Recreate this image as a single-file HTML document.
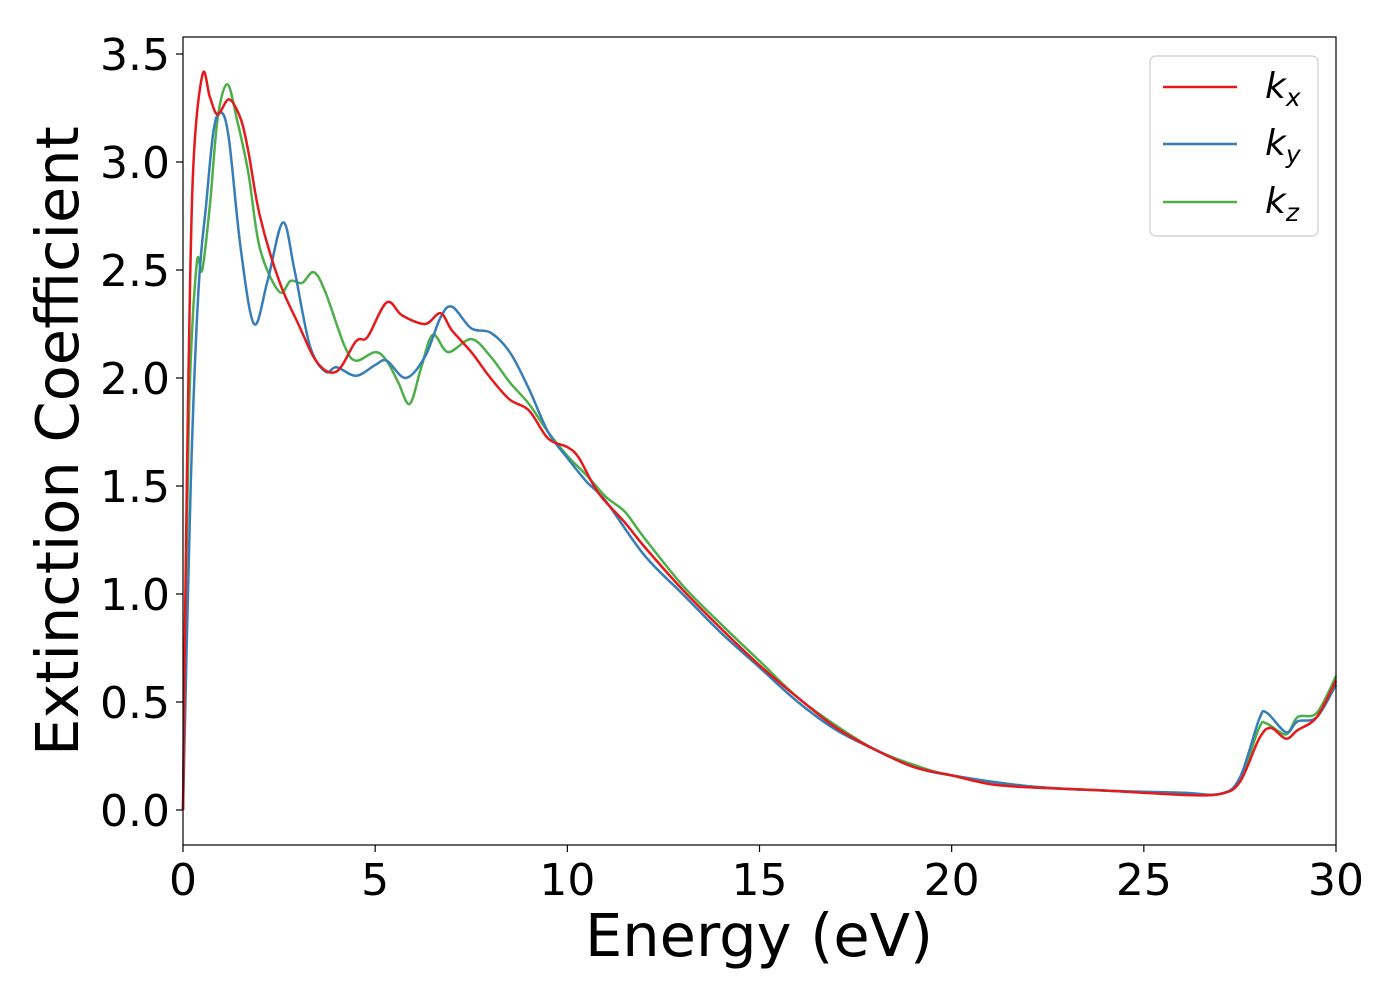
<!DOCTYPE html>
<html><head><meta charset="utf-8"><style>
html,body{margin:0;padding:0;background:#fff;}
svg{display:block;font-family:"DejaVu Sans","Liberation Sans",sans-serif;}
</style></head><body>
<svg id="chart" width="1400" height="1000" viewBox="0 0 1400 1000" xmlns="http://www.w3.org/2000/svg">
<rect x="0" y="0" width="1400" height="1000" fill="#fff"/>
<g id="series"></g>
<rect x="183" y="37" width="1153" height="808" fill="none" stroke="#000" stroke-width="1.2"/>
<g id="xticks"></g>
<g id="yticks"></g>
<text x="759" y="956" font-size="59" text-anchor="middle">Energy (eV)</text>
<text transform="translate(78,441) rotate(-90)" font-size="59" text-anchor="middle">Extinction Coefficient</text>
<g>
<rect x="1150" y="56" width="168" height="180" rx="6" fill="#fff" stroke="#ccc" stroke-width="1.2"/>
<line x1="1163" y1="87" x2="1237" y2="87" stroke="#e41a1c" stroke-width="2.5"/>
<text x="1265" y="98" font-size="36" font-style="italic">k<tspan font-size="25" dy="8">x</tspan></text>
<line x1="1163" y1="144" x2="1237" y2="144" stroke="#377eb8" stroke-width="2.5"/>
<text x="1265" y="155" font-size="36" font-style="italic">k<tspan font-size="25" dy="8">y</tspan></text>
<line x1="1163" y1="202" x2="1237" y2="202" stroke="#4daf4a" stroke-width="2.5"/>
<text x="1265" y="213" font-size="36" font-style="italic">k<tspan font-size="25" dy="8">z</tspan></text>
</g>
</svg>
<script>
const xTickValues=[0,5,10,15,20,25,30];
const yTickValues=[0.0,0.5,1.0,1.5,2.0,2.5,3.0,3.5];
const kxE=[0,0.1,0.25,0.5,0.7,0.9,1.2,1.5,1.7,2,2.5,3,3.5,4,4.5,4.8,5.3,5.7,6.3,6.7,7,7.5,8,8.5,9,9.5,10,10.3,10.8,11.5,12,13,14,15,16,17,18,19,20,21,22,24,26,27,27.5,28,28.3,28.7,29,29.5,30];
const kxV=[0,1.5,2.9,3.4,3.3,3.22,3.29,3.2,3.05,2.75,2.45,2.25,2.07,2.03,2.17,2.19,2.35,2.29,2.25,2.3,2.22,2.12,2.0,1.9,1.85,1.72,1.68,1.63,1.47,1.33,1.22,1.02,0.84,0.67,0.52,0.38,0.28,0.2,0.16,0.12,0.105,0.09,0.07,0.075,0.13,0.33,0.38,0.33,0.37,0.43,0.6];
const kyE=[0,0.2,0.4,0.6,0.8,1,1.2,1.5,1.85,2.2,2.6,2.9,3.3,3.7,4,4.5,5,5.3,5.8,6.3,6.7,7,7.5,8,8.5,9,9.5,10,10.5,11,12,13,14,15,16,17,18,19,20,22,24,26,27,27.5,28,28.2,28.7,29,29.5,30];
const kyV=[0,1.5,2.4,2.8,3.15,3.23,3.1,2.6,2.25,2.45,2.72,2.5,2.15,2.03,2.05,2.01,2.06,2.08,2.0,2.1,2.28,2.33,2.23,2.21,2.12,1.95,1.75,1.63,1.52,1.43,1.18,1.0,0.82,0.66,0.5,0.37,0.28,0.2,0.16,0.11,0.09,0.08,0.075,0.15,0.42,0.45,0.36,0.41,0.43,0.58];
const kzE=[0,0.15,0.35,0.5,0.7,0.9,1.15,1.4,1.7,2,2.5,2.8,3.1,3.4,3.7,4.2,4.5,5,5.3,5.6,5.9,6.2,6.5,6.9,7.5,8,8.5,9,9.5,10,10.5,11,11.5,12,13,14,15,16,17,18,19,20,22,24,26,27,27.5,28,28.2,28.7,29,29.5,30];
const kzV=[0,1.8,2.52,2.5,2.8,3.2,3.36,3.2,2.95,2.6,2.4,2.45,2.44,2.49,2.4,2.15,2.08,2.12,2.08,1.98,1.88,2.05,2.2,2.12,2.18,2.1,1.98,1.88,1.75,1.64,1.55,1.45,1.38,1.26,1.04,0.86,0.69,0.52,0.39,0.28,0.21,0.16,0.11,0.09,0.075,0.075,0.14,0.38,0.4,0.35,0.43,0.45,0.62];

const X0=183,X1=1336,Y0v=810,PXU=216;
function xs(v){return X0+(v-0)/30*(X1-X0);}
function ys(v){return Y0v-v*PXU;}
const NS="http://www.w3.org/2000/svg";
function smoothPath(E,V){
  const p=E.map((e,i)=>[xs(e),ys(V[i])]);
  let d="M"+p[0][0].toFixed(1)+","+p[0][1].toFixed(1);
  for(let i=0;i<p.length-1;i++){
    const a=p[Math.max(0,i-1)],b=p[i],c=p[i+1],n=p[Math.min(p.length-1,i+2)];
    const c1x=b[0]+(c[0]-a[0])/6,c1y=b[1]+(c[1]-a[1])/6,c2x=c[0]-(n[0]-b[0])/6,c2y=c[1]-(n[1]-b[1])/6;
    d+=" C"+c1x.toFixed(1)+","+c1y.toFixed(1)+" "+c2x.toFixed(1)+","+c2y.toFixed(1)+" "+c[0].toFixed(1)+","+c[1].toFixed(1);
  }
  return d;
}
const sg=document.getElementById("series");
[[kzE,kzV,"#4daf4a","kz"],[kyE,kyV,"#377eb8","ky"],[kxE,kxV,"#e41a1c","kx"]].forEach(s=>{
  const path=document.createElementNS(NS,"path");
  path.setAttribute("d",smoothPath(s[0],s[1]));
  path.setAttribute("fill","none");path.setAttribute("stroke",s[2]);path.setAttribute("stroke-width","2.5");
  
  
  sg.appendChild(path);
});
const xg=document.getElementById("xticks");
xTickValues.forEach(v=>{
  const l=document.createElementNS(NS,"line");
  l.setAttribute("x1",xs(v));l.setAttribute("x2",xs(v));l.setAttribute("y1",845);l.setAttribute("y2",852);l.setAttribute("stroke","#000");l.setAttribute("stroke-width","1.2");
  
  
  xg.appendChild(l);
  const t=document.createElementNS(NS,"text");
  t.setAttribute("x",xs(v));t.setAttribute("y",895);t.setAttribute("font-size","44");t.setAttribute("text-anchor","middle");
  t.textContent=String(v);
  
  
  xg.appendChild(t);
});
const yg=document.getElementById("yticks");
yTickValues.forEach(v=>{
  const l=document.createElementNS(NS,"line");
  l.setAttribute("x1",176);l.setAttribute("x2",183);l.setAttribute("y1",ys(v));l.setAttribute("y2",ys(v));l.setAttribute("stroke","#000");l.setAttribute("stroke-width","1.2");
  
  
  yg.appendChild(l);
  const t=document.createElementNS(NS,"text");
  t.setAttribute("x",170);t.setAttribute("y",ys(v)+16);t.setAttribute("font-size","44");t.setAttribute("text-anchor","end");
  t.textContent=v.toFixed(1);
  
  
  yg.appendChild(t);
});
</script>
</body></html>
